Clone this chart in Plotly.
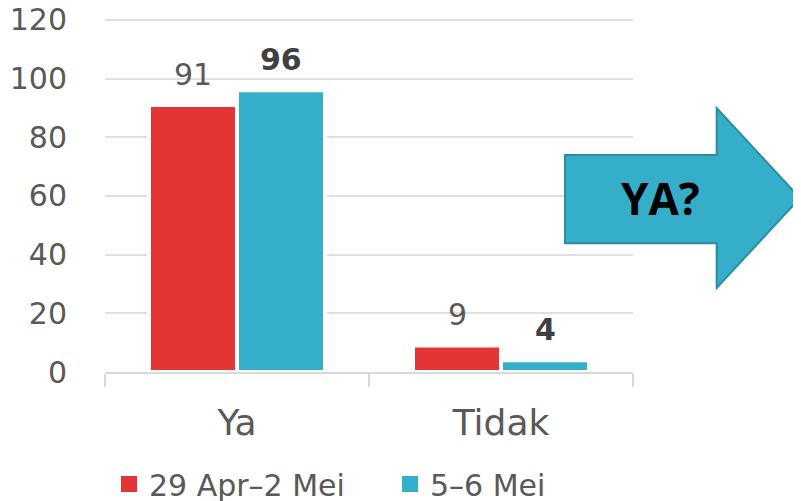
import plotly.graph_objects as go

categories = ["Ya", "Tidak"]
series_names = ["29 Apr–2 Mei", "5–6 Mei"]
values_period1 = [91, 9]
values_period2 = [96, 4]
labels_period1 = ["91", "9"]
labels_period2 = ["96", "4"]
y_ticks = [0, 20, 40, 60, 80, 100, 120]
arrow_text = "YA?"

RED = "#E33535"
TEAL = "#35B0CB"
GRAY = "#595959"
FONT = "DejaVu Sans"

OFF = 8  # page body margin
Y_MAX = 121
W, H = 801 - OFF, 501 - OFF
L, T = 105 - OFF, 17 - OFF
R = W - (633 - OFF)
B = H - (372 - OFF)
PW, PH = W - L - R, H - T - B


def px(x):  # reference page pixel -> paper
    return (x - OFF - L) / PW


def py(y):
    return (H - B - (y - OFF)) / PH


fig = go.Figure()
fig.add_trace(go.Bar(x=categories, y=values_period1, name=series_names[0],
                     marker=dict(color=RED, line=dict(color="white", width=4)),
                     showlegend=False))
fig.add_trace(go.Bar(x=categories, y=values_period2, name=series_names[1],
                     marker=dict(color=TEAL, line=dict(color="white", width=4)),
                     showlegend=False))
# legend entries (one legend per series so each can be placed)
for name, col, lg in zip(series_names, [RED, TEAL], ["legend", "legend2"]):
    fig.add_trace(go.Scatter(x=[None], y=[None], mode="markers", name=name, legend=lg,
                             marker=dict(symbol="square", size=16, color=col)))

annotations = []
for cat, v, lab in zip(categories, values_period1, labels_period1):
    annotations.append(dict(x=cat, y=v, text=lab, showarrow=False, xshift=-44, yshift=31,
                            yanchor="middle", font=dict(family=FONT, size=30, color=GRAY)))
for cat, v, lab in zip(categories, values_period2, labels_period2):
    annotations.append(dict(x=cat, y=v, text="<b>" + lab + "</b>", showarrow=False, xshift=44,
                            yshift=31, yanchor="middle", font=dict(family=FONT, size=30, color="#404040")))

# arrow decoration
pts = [(565, 155), (716.7, 155), (716.7, 108), (800, 198), (716.7, 288), (716.7, 243.3), (565, 243.3)]
path = "M " + " L ".join(f"{px(x):.4f},{py(y):.4f}" for x, y in pts) + " Z"
shapes = [dict(type="path", xref="paper", yref="paper", path=path,
               fillcolor="#35AFC9", line=dict(color="#2B8DA3", width=2), layer="above")]
annotations.append(dict(xref="paper", yref="paper", x=px(660), y=py(198), text="<b>" + arrow_text + "</b>",
                        showarrow=False, xanchor="center", yanchor="middle",
                        font=dict(family="Open Sans", size=44, color="black")))

legend_common = dict(orientation="h", xref="container", yref="container",
                     xanchor="left", yanchor="middle",
                     font=dict(family=FONT, size=30, color=GRAY), bgcolor="rgba(0,0,0,0)")
leg_y = 1 - (484 - OFF) / H

fig.update_layout(
    width=W, height=H,
    margin=dict(l=L, r=R, t=T, b=B, autoexpand=False),
    paper_bgcolor="white", plot_bgcolor="white",
    barmode="group", bargap=1/3, bargroupgap=0,
    font=dict(family=FONT, size=30, color=GRAY),
    shapes=shapes, annotations=annotations,
    legend=dict(x=(129 - OFF - 20) / W, y=leg_y, **legend_common),
    legend2=dict(x=(410 - OFF - 20) / W, y=leg_y, **legend_common),
    xaxis=dict(showline=True, linecolor="#D9D9D9", linewidth=1.5,
               ticks="outside", tickson="boundaries", ticklen=13, tickcolor="#D9D9D9", tickwidth=1.5,
               ticklabelstandoff=18,
               tickfont=dict(family=FONT, size=36, color=GRAY), showgrid=False),
    yaxis=dict(range=[0, Y_MAX], tickvals=y_ticks, showgrid=True, gridcolor="#E0E0E0", gridwidth=1.5,
               zeroline=False, ticks="outside", ticklen=31, tickcolor="rgba(0,0,0,0)",
               ticklabeloverflow="allow",
               tickfont=dict(family=FONT, size=30, color=GRAY)),
)

fig.write_html("out.html")
